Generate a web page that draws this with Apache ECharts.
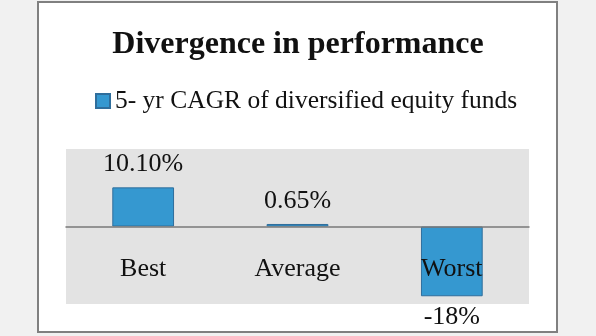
<!DOCTYPE html>
<html><head><meta charset="utf-8">
<script src="https://cdn.jsdelivr.net/npm/echarts@6/dist/echarts.min.js"></script>
<style>html,body{margin:0;padding:0;background:#f1f1f1}#c{width:596px;height:336px}</style>
</head><body><div id="c"></div>
<script>
const titleText = 'Divergence in performance';
const seriesName = '5- yr CAGR of diversified equity funds';
const categories = ['Best', 'Average', 'Worst'];
const values = [10.10, 0.65, -18];
const valueLabels = ['10.10%', '0.65%', '-18%'];

const FONT = '"Liberation Serif", "DejaVu Serif", serif';
const chart = echarts.init(document.getElementById('c'));
chart.setOption({
  backgroundColor: '#f1f1f1',
  animation: false,
  graphic: [
    { type: 'rect', z: -10, shape: { x: 38, y: 2, width: 519, height: 330 },
      style: { fill: '#ffffff', stroke: '#808080', lineWidth: 2 } }
  ],
  title: {
    text: titleText, left: 'center', top: 24,
    textStyle: { fontFamily: FONT, fontWeight: 'bold', fontSize: 32, color: '#111' }
  },
  legend: {
    left: 90, top: 83, icon: 'rect', itemWidth: 14, itemHeight: 14, itemGap: 10,
    textStyle: { fontFamily: FONT, fontSize: 25.5, color: '#111' },
    data: [seriesName]
  },
  grid: { left: 66, right: 67, top: 149, bottom: 32, show: true, backgroundColor: '#e3e3e3', borderWidth: 0,
    containLabel: false, outerBoundsMode: 'none' },
  xAxis: {
    type: 'category', data: categories, z: 5,
    axisLine: { onZero: true, lineStyle: { color: '#7a7a7a', width: 1.5 } },
    axisTick: { show: false },
    axisLabel: { margin: -48, fontFamily: FONT, fontSize: 26, color: '#111' }
  },
  yAxis: {
    type: 'value', min: -20, max: 20, interval: 10, show: false,
    splitLine: { show: false }
  },
  series: [{
    name: seriesName, type: 'bar', barWidth: '40%',
    itemStyle: { color: '#3598d0', borderColor: '#2f6e9c', borderWidth: 1 },
    data: values.map((v, i) => ({
      value: v,
      label: {
        show: true,
        position: v >= 0 ? 'top' : 'bottom',
        distance: v >= 0 ? 10 : 8,
        formatter: valueLabels[i],
        fontFamily: FONT, fontSize: 26, color: '#111'
      }
    }))
  }]
});
</script></body></html>
